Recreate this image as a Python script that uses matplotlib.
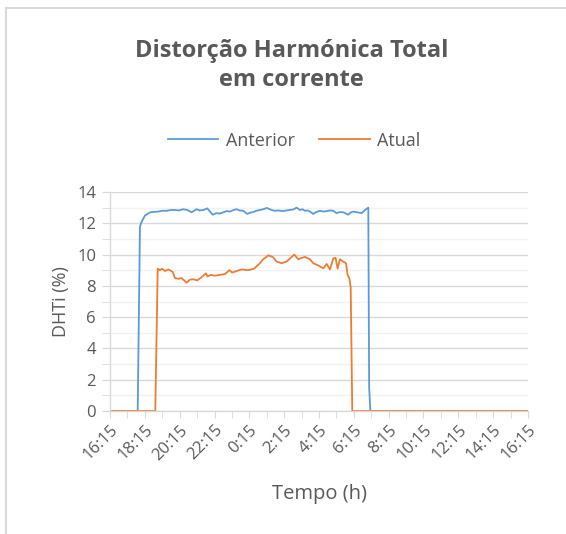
import matplotlib.pyplot as plt
from matplotlib.lines import Line2D
from matplotlib.ticker import MultipleLocator

# hours after 16:15
anterior_h = [0, 1.59, 1.72, 1.82, 2.01, 2.30, 2.50, 2.77, 3.00, 3.25, 3.50, 3.73, 3.95,
              4.21, 4.44, 4.69, 4.97, 5.15, 5.36, 5.59, 5.74, 5.89, 6.12, 6.30, 6.51, 6.70,
              6.89, 7.10, 7.27, 7.45, 7.65, 7.88, 8.05, 8.23, 8.40, 8.61, 8.80, 9.00,
              9.28, 9.45, 9.66, 9.90, 10.14, 10.35, 10.52, 10.71, 10.91, 11.05, 11.19,
              11.35, 11.48, 11.67, 11.85, 12.06, 12.25, 12.44, 12.62, 12.82, 13.01, 13.20,
              13.39, 13.55, 13.68, 13.80, 13.97, 14.20, 14.45, 14.64, 14.83, 14.88, 14.95, 24]
anterior = [0, 0, 11.8, 12.1, 12.5, 12.7, 12.72, 12.75, 12.8, 12.8, 12.85, 12.85, 12.82,
            12.9, 12.85, 12.7, 12.9, 12.82, 12.85, 12.95, 12.75, 12.55, 12.65, 12.62, 12.7, 12.78,
            12.75, 12.85, 12.9, 12.82, 12.8, 12.6, 12.68, 12.72, 12.8, 12.85, 12.9, 12.98,
            12.85, 12.8, 12.82, 12.78, 12.82, 12.86, 12.88, 13.0, 12.85, 12.9, 12.8,
            12.82, 12.75, 12.6, 12.72, 12.8, 12.75, 12.78, 12.82, 12.8, 12.65, 12.72,
            12.7, 12.62, 12.55, 12.68, 12.75, 12.7, 12.65, 12.85, 13.0, 1.5, 0, 0]

atual_h = [0, 2.60, 2.74, 2.87, 3.00, 3.15, 3.35, 3.60, 3.73, 3.92, 4.11, 4.30, 4.40,
           4.59, 4.78, 5.01, 5.26, 5.51, 5.60, 5.78, 6.03, 6.31, 6.60, 6.85, 7.02, 7.27,
           7.56, 7.94, 8.27, 8.57, 8.80, 9.09, 9.34, 9.57, 9.86, 10.14, 10.43, 10.58,
           10.81, 10.91, 11.19, 11.48, 11.67, 11.96, 12.25, 12.44, 12.63, 12.82, 12.95,
           13.07, 13.20, 13.39, 13.55, 13.64, 13.74, 13.82, 13.91, 24]
atual = [0, 0, 9.1, 9.0, 9.1, 8.95, 9.05, 8.9, 8.5, 8.45, 8.5, 8.3, 8.2,
         8.4, 8.42, 8.35, 8.55, 8.8, 8.6, 8.7, 8.65, 8.7, 8.75, 9.0, 8.85, 8.95,
         9.05, 9.0, 9.1, 9.4, 9.7, 9.95, 9.85, 9.55, 9.45, 9.55, 9.85, 10.0,
         9.7, 9.75, 9.85, 9.7, 9.45, 9.3, 9.12, 9.4, 9.05, 9.75, 9.8,
         9.1, 9.7, 9.55, 9.45, 8.7, 8.5, 7.9, 0, 0]

tick_labels = ["16:15", "18:15", "20:15", "22:15", "0:15", "2:15", "4:15",
               "6:15", "8:15", "10:15", "12:15", "14:15", "16:15"]

plt.rcParams['font.family'] = ['Open Sans', 'DejaVu Sans']
cinza = '#595959'

fig = plt.figure(figsize=(5.66, 5.34), dpi=100)
ax = fig.add_axes([110/566, 1-411/534, 418/566, 219/534])

ax.plot(anterior_h, anterior, color='#5B9BD5', lw=1.3, label='Anterior')
ax.plot(atual_h, atual, color='#ED7D31', lw=1.3, label='Atual')

ax.set_xlim(0, 24)
ax.set_ylim(0, 14)
ax.set_xticks(range(0, 25, 2))
ax.set_xticklabels(tick_labels, rotation=45, ha='right', rotation_mode='anchor')
ax.xaxis.set_minor_locator(MultipleLocator(1))
ax.yaxis.set_major_locator(MultipleLocator(2))
ax.yaxis.set_minor_locator(MultipleLocator(1))

ax.grid(True, which='major', axis='y', color='#D9D9D9', lw=1)
ax.grid(True, which='minor', axis='y', color='#F2F2F2', lw=1)
ax.set_axisbelow(True)

for s in ['top', 'right']:
    ax.spines[s].set_visible(False)
for s in ['left', 'bottom']:
    ax.spines[s].set_color('#D9D9D9')
    ax.spines[s].set_linewidth(1)

ax.tick_params(axis='x', which='both', direction='out', length=5, color='#D9D9D9',
               labelcolor=cinza, labelsize=12, pad=3)
ax.tick_params(axis='y', which='both', direction='out', length=6, color='#D9D9D9',
               labelcolor=cinza, labelsize=12, pad=4)

ax.set_ylabel('DHTi (%)', color=cinza, fontsize=13, labelpad=5)
ax.set_xlabel('Tempo (h)', color=cinza, fontsize=14.5, labelpad=15)

fig.suptitle('Distorção Harmónica Total\nem corrente', x=0.515, y=0.927,
             fontsize=17, fontweight='bold', color=cinza, linespacing=1.3)

ax.legend(loc='center', bbox_to_anchor=(0.44, 1.235), ncol=2, frameon=False,
          fontsize=13, labelcolor=cinza, handlelength=2.8, columnspacing=1.35,
          handletextpad=0.4)

# moldura do gráfico
fig.add_artist(Line2D([6/566, 1], [1-8/534, 1-8/534], color='#D9D9D9', lw=1.5))
fig.add_artist(Line2D([6/566, 6/566], [0, 1-8/534], color='#D9D9D9', lw=1.5))

fig.savefig('out.png', dpi=100)
